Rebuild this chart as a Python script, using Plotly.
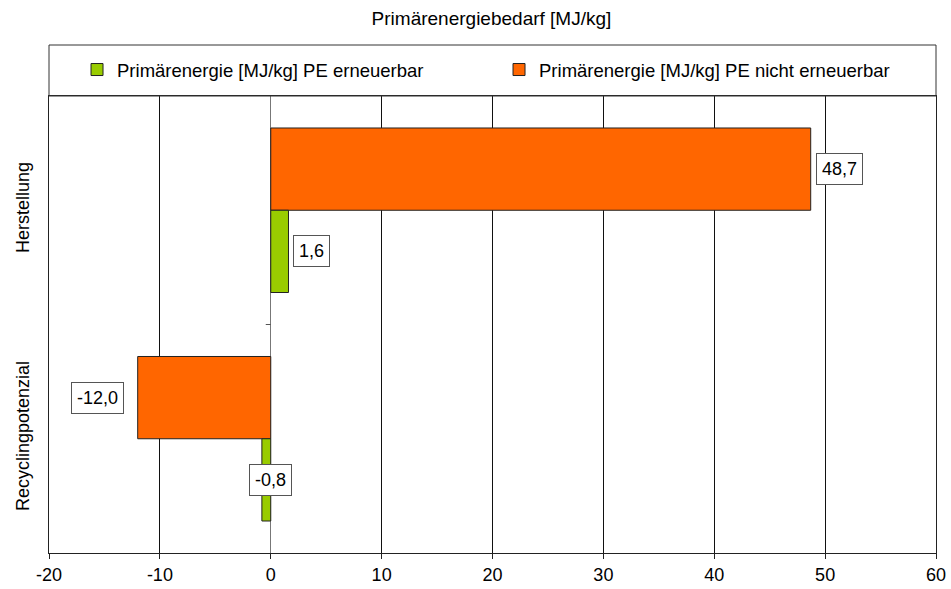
import plotly.graph_objects as go

# Lifecycle phases (top to bottom)
categories = ["Herstellung", "Recyclingpotenzial"]

# Primary energy demand in MJ/kg
pe_nicht_erneuerbar = [48.7, -12.0]
pe_erneuerbar = [1.6, -0.8]

series_names = [
    "Primärenergie [MJ/kg] PE erneuerbar",
    "Primärenergie [MJ/kg] PE nicht erneuerbar",
]

x_ticks = [-20, -10, 0, 10, 20, 30, 40, 50, 60]

FONT = "Arial, Liberation Sans, sans-serif"
ORANGE = "#FF6600"
GREEN = "#99CC00"

fig = go.Figure()
fig.add_trace(go.Bar(
    y=categories, x=pe_nicht_erneuerbar, orientation="h",
    name=series_names[1], marker=dict(color=ORANGE, line=dict(color="#222222", width=1)),
    legendrank=2,
))
fig.add_trace(go.Bar(
    y=categories, x=pe_erneuerbar, orientation="h",
    name=series_names[0], marker=dict(color=GREEN, line=dict(color="#222222", width=1)),
    legendrank=1,
))

bargap = 0.28
half = (1 - bargap) / 4  # offset of each bar centre from the category centre


def fmt(v):
    return f"{v:.1f}".replace(".", ",")


# Value labels in white boxes beside the bar ends
for i, cat in enumerate(categories):
    for vals, off in ((pe_nicht_erneuerbar, -half), (pe_erneuerbar, half)):
        v = vals[i]
        if v >= 0:
            xa, xs = "left", 5
        else:
            xa, xs = "right", -14
        if abs(v) < 2 and v < 0:
            xa, xs = "center", 9
        fig.add_annotation(
            x=v, y=i + off, xref="x", yref="y",
            text=fmt(v), showarrow=False, xanchor=xa, xshift=xs,
            font=dict(family=FONT, size=18, color="black"),
            bgcolor="white", bordercolor="#555555", borderwidth=1, borderpad=5,
        )

# Small category separator tick on the zero axis
fig.add_shape(type="line", xref="x", yref="y", xsizemode="pixel", xanchor=0,
              x0=-5, x1=0, y0=0.5, y1=0.5, line=dict(color="#555555", width=1))

# Frame around the legend above the plot
fig.add_shape(type="rect", xref="paper", yref="paper",
              x0=0, x1=1, y0=1, y1=1 + 51 / 457,
              line=dict(color="#333333", width=1), fillcolor="rgba(0,0,0,0)")

fig.update_layout(
    width=951, height=589,
    margin=dict(l=49, r=15, t=96, b=36, autoexpand=False),
    paper_bgcolor="white", plot_bgcolor="white",
    barmode="group", bargap=bargap, bargroupgap=0,
    font=dict(family=FONT, size=18, color="black"),
    title=dict(text="Primärenergiebedarf [MJ/kg]", x=0.5168, xanchor="center",
               y=1 - 18 / 589, yanchor="middle",
               font=dict(family=FONT, size=19, color="black")),
    showlegend=True,
    legend=dict(orientation="h", x=0.0316, xanchor="left", y=1 + 26 / 457, yanchor="middle",
                entrywidth=377, entrywidthmode="pixels",
                font=dict(family=FONT, size=18.5, color="black"),
                bgcolor="rgba(0,0,0,0)", borderwidth=0, traceorder="normal",
                itemclick=False, itemdoubleclick=False),
    xaxis=dict(range=[-20, 60], tickvals=x_ticks, ticktext=[str(t) for t in x_ticks],
               showgrid=True, gridcolor="#111111", gridwidth=1,
               zeroline=True, zerolinecolor="#777777", zerolinewidth=1,
               showline=True, linecolor="#222222", linewidth=1, mirror=True,
               ticks="outside", ticklen=5, tickcolor="#222222", automargin=False,
               tickfont=dict(family=FONT, size=18, color="black"), fixedrange=True),
    yaxis=dict(categoryorder="array", categoryarray=categories, autorange="reversed",
               showgrid=False, zeroline=False,
               showline=True, linecolor="#222222", linewidth=1, mirror=True,
               ticks="", tickangle=-90, ticklabelstandoff=12, automargin=False,
               tickfont=dict(family=FONT, size=18, color="black"), fixedrange=True),
)

fig.write_html("out.html")
